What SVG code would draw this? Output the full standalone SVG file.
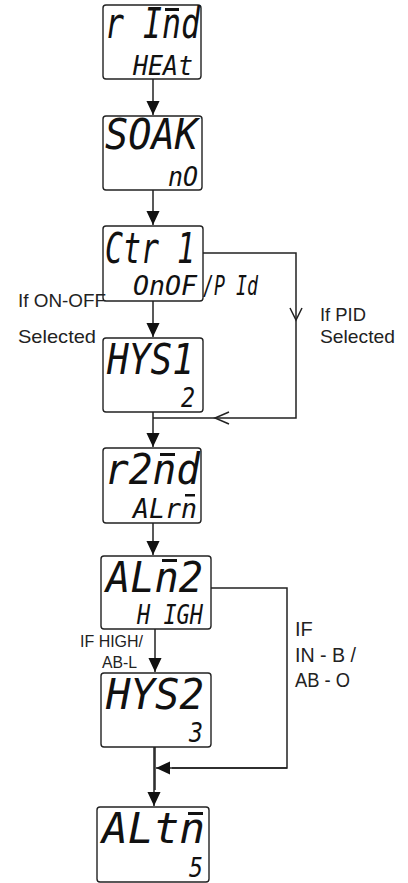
<svg xmlns="http://www.w3.org/2000/svg" width="408" height="883" viewBox="0 0 408 883">
<style>
.box{fill:#fff;stroke:#222;stroke-width:1.4}
.big{font-family:"DejaVu Sans Mono",monospace;font-style:oblique;font-size:42px;fill:#111}
.sm{font-family:"DejaVu Sans Mono",monospace;font-style:oblique;font-size:26px;fill:#111}
.bar{fill:#111}
.ln{fill:none;stroke:#222;stroke-width:1.5}
.lbl{font-family:"Liberation Sans",Arial,sans-serif;font-size:19px;fill:#222}
.lbls{font-family:"Liberation Sans",Arial,sans-serif;font-size:16px;fill:#222}
.lblb{font-family:"Liberation Sans",Arial,sans-serif;font-size:20px;fill:#222}
</style>
<defs>
<marker id="ah" markerWidth="14" markerHeight="14" refX="15" refY="7" orient="auto" markerUnits="userSpaceOnUse" viewBox="0 0 15 14">
<path d="M0,0 L15,7 L0,14 Z" fill="#111"/>
</marker>
</defs>
<g id="connectors">
<line class="ln" x1="153" y1="79" x2="153" y2="115" marker-end="url(#ah)"/>
<line class="ln" x1="153" y1="190" x2="153" y2="225" marker-end="url(#ah)"/>
<line class="ln" x1="153" y1="301" x2="153" y2="337" marker-end="url(#ah)"/>
<line class="ln" x1="153" y1="412" x2="153" y2="447" marker-end="url(#ah)"/>
<polyline class="ln" points="203,253 296,253 296,418 153,418"/>
<polyline class="ln" points="290,308 296,320 302,308"/>
<polyline class="ln" points="229,412 215,418 229,424"/>
<line class="ln" x1="153" y1="523" x2="153" y2="555" marker-end="url(#ah)"/>
<line class="ln" x1="155" y1="629" x2="155" y2="672" marker-end="url(#ah)"/>
<polyline class="ln" points="211,588 287,588 287,768 172,768"/>
<line class="ln" x1="287" y1="768" x2="156" y2="768" marker-end="url(#ah)"/>
<line class="ln" x1="155" y1="747" x2="155" y2="790"/>
<line class="ln" x1="154" y1="747" x2="154" y2="806" marker-end="url(#ah)"/>
</g>
<g id="n1">
<rect class="box" x="103" y="5" width="98" height="74" rx="3"/>
<text class="big" x="105" y="38" textLength="95" lengthAdjust="spacingAndGlyphs">r Ind</text>
<rect class="bar" x="165" y="8" width="14" height="3"/>
<text class="sm" x="133" y="75" textLength="60" lengthAdjust="spacingAndGlyphs">HEAt</text>
</g>
<g id="n2">
<rect class="box" x="103" y="116" width="99" height="74" rx="3"/>
<text class="big" x="105" y="149" textLength="93" lengthAdjust="spacingAndGlyphs">SOAK</text>
<text class="sm" x="168" y="186" textLength="30" lengthAdjust="spacingAndGlyphs">nO</text>
</g>
<g id="n3">
<rect class="box" x="103" y="226" width="100" height="75" rx="3"/>
<text class="big" x="105" y="263" textLength="90" lengthAdjust="spacingAndGlyphs">Ctr 1</text>
<text class="sm" x="133" y="295" textLength="64" lengthAdjust="spacingAndGlyphs">OnOF</text>
<text class="sm" x="203" y="295" textLength="55" lengthAdjust="spacingAndGlyphs">/P Id</text>
</g>
<g id="n4">
<rect class="box" x="103" y="338" width="100" height="74" rx="3"/>
<text class="big" x="107" y="374" textLength="87" lengthAdjust="spacingAndGlyphs">HYS1</text>
<text class="sm" x="181" y="407" textLength="14" lengthAdjust="spacingAndGlyphs">2</text>
</g>
<g id="n5">
<rect class="box" x="103" y="448" width="98" height="75" rx="3"/>
<text class="big" x="105" y="484" textLength="95" lengthAdjust="spacingAndGlyphs">r2nd</text>
<rect class="bar" x="160" y="453" width="15" height="3"/>
<text class="sm" x="133" y="518" textLength="64" lengthAdjust="spacingAndGlyphs">ALrn</text>
<rect class="bar" x="185" y="494" width="10" height="2.5"/>
</g>
<g id="n6">
<rect class="box" x="101" y="556" width="110" height="73" rx="3"/>
<text class="big" x="106" y="592" textLength="97" lengthAdjust="spacingAndGlyphs">ALn2</text>
<rect class="bar" x="162" y="559" width="15" height="3"/>
<text class="sm" x="137" y="624" textLength="66" lengthAdjust="spacingAndGlyphs">H IGH</text>
</g>
<g id="n7">
<rect class="box" x="101" y="673" width="110" height="74" rx="3"/>
<text class="big" x="106" y="709" textLength="98" lengthAdjust="spacingAndGlyphs">HYS2</text>
<text class="sm" x="189" y="742" textLength="14" lengthAdjust="spacingAndGlyphs">3</text>
</g>
<g id="n8">
<rect class="box" x="97" y="807" width="112" height="75" rx="3"/>
<text class="big" x="102" y="843" textLength="103" lengthAdjust="spacingAndGlyphs">ALtn</text>
<rect class="bar" x="188" y="812" width="15" height="3"/>
<text class="sm" x="189" y="877" textLength="14" lengthAdjust="spacingAndGlyphs">5</text>
</g>
<g id="labels">
<text class="lbl" x="18" y="307" textLength="88" lengthAdjust="spacingAndGlyphs">If ON-OFF</text>
<text class="lbl" x="18" y="343" textLength="78" lengthAdjust="spacingAndGlyphs">Selected</text>
<text class="lbl" x="320" y="321" textLength="46" lengthAdjust="spacingAndGlyphs">If PID</text>
<text class="lbl" x="320" y="343" textLength="75" lengthAdjust="spacingAndGlyphs">Selected</text>
<text class="lbls" x="80" y="647" textLength="63" lengthAdjust="spacingAndGlyphs">IF HIGH/</text>
<text class="lbls" x="102" y="668" textLength="35" lengthAdjust="spacingAndGlyphs">AB-L</text>
<text class="lblb" x="295" y="636">IF</text>
<text class="lblb" x="295" y="662" textLength="61" lengthAdjust="spacingAndGlyphs">IN - B /</text>
<text class="lblb" x="295" y="687" textLength="55" lengthAdjust="spacingAndGlyphs">AB - O</text>
</g>
</svg>
